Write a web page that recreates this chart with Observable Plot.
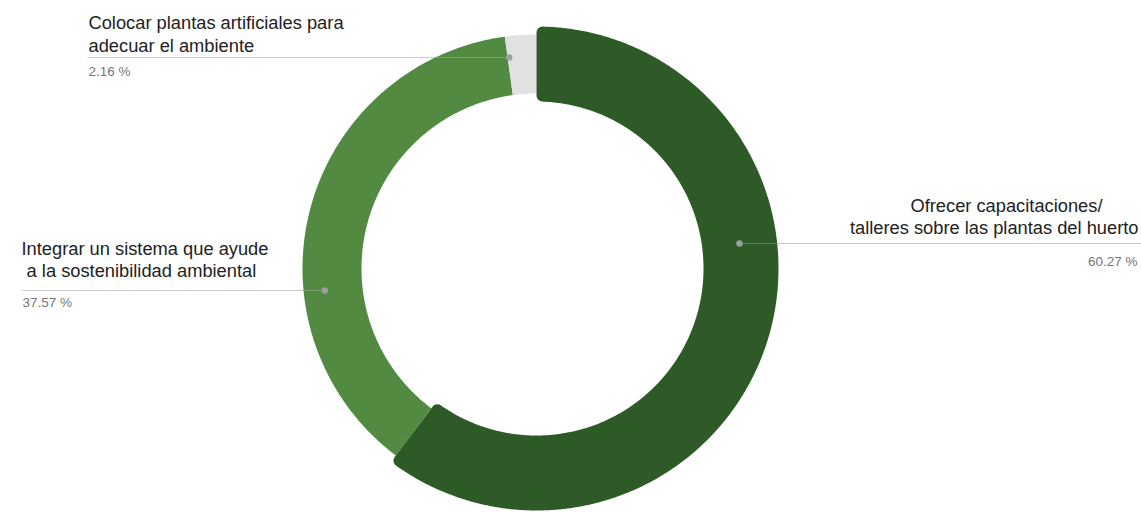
<!DOCTYPE html>
<html><head><meta charset="utf-8">
<script src="https://cdn.jsdelivr.net/npm/d3@7"></script>
<script src="https://cdn.jsdelivr.net/npm/@observablehq/plot@0.6"></script>
<style>body{margin:0;background:#fff;overflow:hidden;}</style>
</head><body><div id="chart"></div>
<script>
// ---- data ----
const categories = [
  ["Ofrecer capacitaciones/", "talleres sobre las plantas del huerto"],
  ["Integrar un sistema que ayude", "\u00a0a la sostenibilidad ambiental"],
  ["Colocar plantas artificiales para", "adecuar el ambiente"]
];
const values = [60.27, 37.57, 2.16];
const valueLabels = ["60.27 %", "37.57 %", "2.16 %"];
const colors = ["#2e5a28", "#528a42", "#e1e1e1"];

// ---- layout ----
const W = 1141, H = 513, cx = 536, cy = 268, rIn = 175, rOut = 234, grow = 8;
const highlight = 0;
const layout = [
  {lineY: 243, textX: [1102, 1138], textY: [206, 228], anchor: "end", pctX: 1137, pctY: 261, lineEnd: 1141},
  {lineY: 290, textX: [21, 21], textY: [249, 271], anchor: "start", pctX: 22, pctY: 302, lineEnd: 22},
  {lineY: 57, textX: [88, 88], textY: [23, 46], anchor: "start", pctX: 88, pctY: 71, lineEnd: 87}
];

const pie = d3.pie().sort(null).value(d => d)(values);

function radii(i) {
  return i === highlight ? [rIn - grow, rOut + grow] : [rIn, rOut];
}
function ringPoints(i, pad) {
  const a0 = pie[i].startAngle, a1 = pie[i].endAngle;
  const [r0, r1] = radii(i);
  const ro = r1 - pad, ri = r0 + pad;
  const n = Math.max(8, Math.ceil((a1 - a0) / (Math.PI / 360)));
  const pts = [];
  for (let k = 0; k <= n; k++) {
    const a = a0 + pad / ro + (a1 - a0 - 2 * pad / ro) * k / n;
    pts.push({slice: i, x: cx + ro * Math.sin(a), y: cy - ro * Math.cos(a)});
  }
  for (let k = n; k >= 0; k--) {
    const a = a0 + pad / ri + (a1 - a0 - 2 * pad / ri) * k / n;
    pts.push({slice: i, x: cx + ri * Math.sin(a), y: cy - ri * Math.cos(a)});
  }
  return pts;
}

const order = values.map((_, i) => i).filter(i => i !== highlight).concat([highlight]);
const pad = 6;
const sliceMarks = order.map(i => {
  const hi = i === highlight;
  return Plot.line(ringPoints(i, hi ? pad : 0), {
    x: "x", y: "y", curve: "linear-closed",
    fill: colors[i], stroke: hi ? colors[i] : "none",
    strokeWidth: hi ? 2 * pad : 0, strokeLinejoin: "round"
  });
});

// label anchors
const anchors = values.map((v, i) => {
  const mid = (pie[i].startAngle + pie[i].endAngle) / 2;
  const [r0, r1] = radii(i);
  const rho = r0 + (r1 - r0) * (i === highlight ? 0.5 : 0.64);
  const L = layout[i];
  const dy = L.lineY - cy;
  const dx = Math.sqrt(Math.max(0, rho * rho - dy * dy));
  const right = Math.sin(mid) > 0;
  return {i, x: cx + (right ? dx : -dx), y: L.lineY, x2: L.lineEnd};
});

const lineRows = [];
categories.forEach((lines, i) => lines.forEach((t, j) => lineRows.push({
  text: t, x: layout[i].textX[j], y: layout[i].textY[j], anchor: layout[i].anchor
})));
const pctRows = valueLabels.map((t, i) => ({text: t, x: layout[i].pctX, y: layout[i].pctY, anchor: layout[i].anchor}));

const plot = Plot.plot({
  width: W, height: H,
  margin: 0,
  x: {domain: [0, W], range: [0, W], axis: null},
  y: {domain: [0, H], range: [0, H], axis: null},
  style: {fontFamily: "'Liberation Sans', Arial, sans-serif", background: "#fff"},
  marks: [
    Plot.link(anchors, {x1: "x", y1: "y", x2: "x2", y2: "y", stroke: "#c9c9c9", strokeWidth: 1}),
    ...sliceMarks,
    Plot.link(anchors, {x1: "x", y1: "y", x2: "x2", y2: "y", stroke: "#d0d0d0", strokeWidth: 1, strokeOpacity: 0.3}),
    Plot.dot(anchors, {x: "x", y: "y", r: 3.2, fill: "#9f9f9f", stroke: "none"}),
    Plot.text(lineRows.filter(d => d.anchor === "start"), {x: "x", y: "y", text: "text", textAnchor: "start", lineAnchor: "middle", fontSize: 18.3, fill: "#222"}),
    Plot.text(lineRows.filter(d => d.anchor === "end"), {x: "x", y: "y", text: "text", textAnchor: "end", lineAnchor: "middle", fontSize: 18.3, fill: "#222"}),
    Plot.text(pctRows.filter(d => d.anchor === "start"), {x: "x", y: "y", text: "text", textAnchor: "start", lineAnchor: "middle", fontSize: 13.5, fill: "#757575"}),
    Plot.text(pctRows.filter(d => d.anchor === "end"), {x: "x", y: "y", text: "text", textAnchor: "end", lineAnchor: "middle", fontSize: 13.5, fill: "#757575"})
  ]
});
document.getElementById("chart").appendChild(plot);
</script>
</body></html>
